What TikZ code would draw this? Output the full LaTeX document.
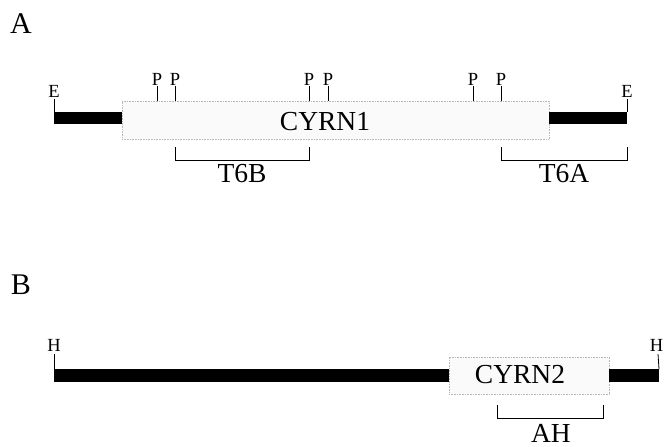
\documentclass[tikz,border=0pt]{standalone}
\usepackage{fontspec}
\setmainfont{Liberation Serif}
\begin{document}
\begin{tikzpicture}[x=1pt,y=-1pt,
  bar/.style={fill=black,draw=none,inner sep=0pt,outer sep=0pt},
  gene/.style={fill=gray!4,draw=gray!55,densely dotted,line width=0.6pt,inner sep=0pt,outer sep=0pt},
  tick/.style={line width=0.8pt},
  brk/.style={line width=0.9pt},
  big/.style={font=\fontsize{27.5}{27.5}\selectfont,inner sep=0pt},
  panel/.style={font=\fontsize{30}{30}\selectfont,inner sep=0pt},
  small/.style={font=\fontsize{18.5}{18.5}\selectfont,inner sep=0pt}]
\path[use as bounding box,fill=white] (0,0) rectangle (665,447);
% panel labels
\node[panel] (labA) at (21,24) {A};
\node[panel] (labB) at (21,285) {B};
% ---------- Panel A ----------
\node[gene,minimum width=427,minimum height=38] (cyrn1) at (335.5,120) {};
\node[bar,minimum width=68,minimum height=12.5] (barAL) at (88,118) {};
\node[bar,minimum width=78,minimum height=12.5] (barAR) at (588,118) {};
\node[big] (t1) at (325,121.5) {CYRN1};
% E sites
\node[small] (eL) at (54,91) {E};
\node[small] (eR) at (627,91) {E};
\draw[tick] (54,99) -- (barAL.north west);
\draw[tick] (627,99) -- (barAR.north east);
% P sites
\foreach \x/\n in {157/p1,175/p2,309/p3,328/p4,473/p5,501/p6}{
  \node[small] (\n) at (\x,79) {P};
  \coordinate (\n b) at (\x,101);
  \draw[tick] (\x,86) -- (\n b);
}
% T6B bracket
\coordinate (b1a) at (175,147); \coordinate (b1b) at (309,147);
\draw[brk] (b1a) -- ++(0,13) -| (b1b);
\node[big] (t6b) at (242,174) {T6B};
% T6A bracket
\coordinate (b2a) at (501,147); \coordinate (b2b) at (627,147);
\draw[brk] (b2a) -- ++(0,13) -| (b2b);
\node[big] (t6a) at (564,174) {T6A};
% ---------- Panel B ----------
\node[gene,minimum width=160,minimum height=37] (cyrn2) at (529,375.5) {};
\node[bar,minimum width=395,minimum height=13] (barBL) at (251.5,375.5) {};
\node[bar,minimum width=50,minimum height=13] (barBR) at (634,375.5) {};
\node[big] (t2) at (520,375) {CYRN2};
\node[small] (hL) at (54,345) {H};
\node[small] (hR) at (656.5,345) {H};
\draw[tick] (54,354) -- (barBL.north west);
\draw[tick] (658,354) -- (barBR.north east);
% AH bracket
\coordinate (b3a) at (497,405); \coordinate (b3b) at (603,405);
\draw[brk] (b3a) -- ++(0,13) -| (b3b);
\node[big] (ah) at (551,433) {AH};
\end{tikzpicture}
\end{document}
